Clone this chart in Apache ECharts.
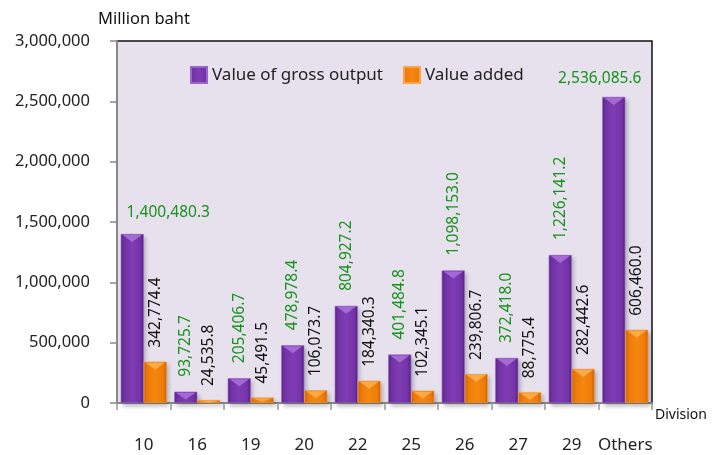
<!DOCTYPE html>
<html>
<head>
<meta charset="utf-8">
<script src="https://cdn.jsdelivr.net/npm/echarts@6/dist/echarts.min.js"></script>
<style>html,body{margin:0;padding:0;background:#fff;}#c{width:717px;height:455px;}</style>
</head>
<body>
<div id="c"></div>
<script>
var categories = ['10', '16', '19', '20', '22', '25', '26', '27', '29', 'Others'];
var grossOutput = [1400480.3, 93725.7, 205406.7, 478978.4, 804927.2, 401484.8, 1098153.0, 372418.0, 1226141.2, 2536085.6];
var valueAdded = [342774.4, 24535.8, 45491.5, 106073.7, 184340.3, 102345.1, 239806.7, 88775.4, 282442.6, 606460.0];
var yTicks = [0, 500000, 1000000, 1500000, 2000000, 2500000, 3000000];

var FONT = 'Noto Sans';
var Y_MAX = 3000000;
var PLOT_H = 455 - 41 - 52;
function fmt1(v) {
  return Number(v).toLocaleString('en-US', {minimumFractionDigits: 1, maximumFractionDigits: 1});
}
function fmt0(v) {
  return Number(v).toLocaleString('en-US');
}
var purpleGrad = new echarts.graphic.LinearGradient(0, 0, 1, 0, [
  {offset: 0, color: '#5b2388'}, {offset: 0.15, color: '#7434a8'},
  {offset: 0.5, color: '#7f3cb4'}, {offset: 0.85, color: '#7434a8'}, {offset: 1, color: '#561f82'}
]);
var orangeGrad = new echarts.graphic.LinearGradient(0, 0, 1, 0, [
  {offset: 0, color: '#d96500'}, {offset: 0.15, color: '#f07c0a'},
  {offset: 0.5, color: '#f5870f'}, {offset: 0.85, color: '#f07c0a'}, {offset: 1, color: '#d46000'}
]);

var grossData = grossOutput.map(function (v, i) {
  var item = {value: v};
  if (i === 0) {
    item.label = {rotate: 0, align: 'center', verticalAlign: 'bottom', offset: [36, 0], distance: 13};
  } else if (i === grossOutput.length - 1) {
    item.label = {rotate: 0, align: 'center', verticalAlign: 'bottom', offset: [-14, 0], distance: 10};
  }
  return item;
});

function topCap(name, values, color) {
  var data = values.map(function (v) {
    var hPx = v / Y_MAX * PLOT_H;
    var capH = Math.max(1.5, Math.min(7, hPx * 0.6));
    return {value: v, symbolSize: [19, capH]};
  });
  return {
    name: name + ' cap',
    type: 'pictorialBar',
    data: data,
    barWidth: 23,
    barGap: '0%',
    symbol: 'triangle',
    symbolRotate: 180,
    symbolPosition: 'end',
    symbolOffset: [0, 1],
    itemStyle: {color: color},
    silent: true,
    z: 5,
    label: {show: false},
    tooltip: {show: false}
  };
}

var chart = echarts.init(document.getElementById('c'), null, {renderer: 'canvas'});
chart.setOption({
  animation: false,
  backgroundColor: '#ffffff',
  textStyle: {fontFamily: FONT},
  grid: {
    left: 117, right: 65, top: 41, bottom: 52,
    show: true, backgroundColor: '#e6e1ed', borderColor: '#111', borderWidth: 1.5
  },
  legend: {
    data: ['Value of gross output', 'Value added'],
    left: 185, top: 61,
    itemWidth: 16, itemHeight: 16, itemGap: 20,
    icon: 'rect',
    textStyle: {fontFamily: FONT, fontSize: 17, color: '#222'}
  },
  xAxis: {
    type: 'category',
    data: categories,
    name: 'Division',
    nameLocation: 'end',
    nameGap: 3,
    nameTextStyle: {fontFamily: FONT, fontSize: 14, color: '#111', verticalAlign: 'top', padding: [5, 0, 0, 0]},
    axisLine: {lineStyle: {color: '#888', width: 2}},
    axisTick: {show: true, length: 7, lineStyle: {color: '#999', width: 1.5}},
    axisLabel: {interval: 0, margin: 34, fontFamily: FONT, fontSize: 17, color: '#222'}
  },
  yAxis: {
    type: 'value',
    min: 0, max: Y_MAX, interval: 500000,
    name: 'Million baht',
    nameLocation: 'end',
    nameGap: 13,
    nameTextStyle: {fontFamily: FONT, fontSize: 16.5, color: '#111', align: 'left', padding: [0, 0, 0, -19]},
    axisLine: {show: true, lineStyle: {color: '#888', width: 2}},
    axisTick: {show: true, length: 7, lineStyle: {color: '#888', width: 1.5}},
    splitLine: {show: false},
    axisLabel: {
      margin: 27, fontFamily: FONT, fontSize: 16.5, color: '#222',
      formatter: function (v) { return yTicks.indexOf(v) >= 0 ? fmt0(v) : ''; }
    }
  },
  series: [
    {
      name: 'Value of gross output',
      type: 'bar',
      data: grossData,
      barWidth: 23,
      barGap: '0%',
      itemStyle: {
        color: purpleGrad, borderColor: '#9a66c8', borderWidth: 0.6,
        shadowColor: 'rgba(0,0,0,0.25)', shadowBlur: 4, shadowOffsetX: 2, shadowOffsetY: 3
      },
      label: {
        show: true, position: 'top', rotate: 90, align: 'left', verticalAlign: 'middle', distance: 15,
        fontFamily: FONT, fontSize: 15.5, color: '#17921a',
        formatter: function (p) { return fmt1(p.value); }
      }
    },
    {
      name: 'Value added',
      type: 'bar',
      data: valueAdded,
      barWidth: 23,
      barGap: '0%',
      itemStyle: {
        color: orangeGrad, borderColor: '#f8a448', borderWidth: 0.6,
        shadowColor: 'rgba(0,0,0,0.25)', shadowBlur: 4, shadowOffsetX: 2, shadowOffsetY: 3
      },
      label: {
        show: true, position: 'top', rotate: 90, align: 'left', verticalAlign: 'middle', distance: 14,
        fontFamily: FONT, fontSize: 15.5, color: '#111',
        formatter: function (p) { return fmt1(p.value); }
      }
    },
    topCap('Value of gross output', grossOutput, '#a569d6'),
    topCap('Value added', valueAdded, '#fbaa45')
  ]
});
</script>
</body>
</html>
